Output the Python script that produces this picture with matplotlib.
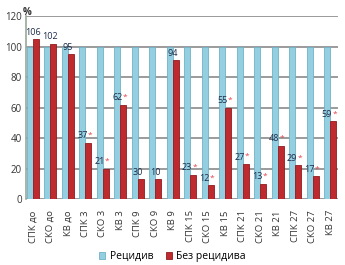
import matplotlib.pyplot as plt
import numpy as np

plt.rcParams['font.family'] = ['Open Sans', 'DejaVu Sans']

categories = ["СПК до", "СКО до", "КВ до", "СПК 3", "СКО 3", "КВ 3",
              "СПК 9", "СКО 9", "КВ 9", "СПК 15", "СКО 15", "КВ 15",
              "СПК 21", "СКО 21", "КВ 21", "СПК 27", "СКО 27", "КВ 27"]
relapse = [100] * 18
no_relapse = [105, 102, 95, 37, 20, 62, 13, 13, 91, 16, 9, 60,
              23, 10, 35, 22, 15, 51]
value_labels = ["106", "102", "95", "37", "21", "62", "30", "10", "94",
                "23", "12", "55", "27", "13", "48", "29", "17", "59"]
starred = [False, False, False, True, True, True, False, False, False,
           True, True, True, True, True, True, True, True, True]

fig = plt.figure(figsize=(3.45, 2.65), dpi=100)
ax = fig.add_axes([0.075, 0.249, 0.905, 0.69])

x = np.arange(len(categories))
w = 0.34
blue = "#93cfe0"
red = "#be2a2e"
ax.bar(x - w / 2, relapse, w, color=blue, edgecolor="#6fb3c6", linewidth=0.6,
       zorder=3, label="Рецидив")
ax.bar(x + w / 2, no_relapse, w, color=red, edgecolor="#8e1c1f", linewidth=0.6,
       zorder=3, label="Без рецидива")

# numbers in dark blue, significance star in red
for xi, top, lab, st in zip(x, no_relapse, value_labels, starred):
    y = top + 1.5
    if st:
        ax.text(xi + 0.12, y, lab, ha="right", va="bottom", fontsize=6.5,
                color="#1d2b4a", zorder=5)
        ax.text(xi + 0.12, y + 1, "*", ha="left", va="bottom", fontsize=6,
                color="#e0484c", zorder=5)
    else:
        ax.text(xi, y, lab, ha="center", va="bottom", fontsize=6.5,
                color="#1d2b4a", zorder=5)

ax.set_ylim(0, 120)
ax.set_xlim(-0.4, 17.46)
ax.set_yticks(range(0, 121, 20))
ax.tick_params(axis="y", labelsize=7, length=0, pad=3, colors="#333333")
ax.set_xticks(x)
ax.set_xticklabels(categories, rotation=90, fontsize=6.8, color="#333333")
ax.tick_params(axis="x", length=0, pad=8)
ax.yaxis.grid(True, color="#8a8a8a", linewidth=1.2, zorder=0)
for s in ["top", "right", "bottom"]:
    ax.spines[s].set_visible(False)
ax.spines["left"].set_color("#9aa89a")
ax.spines["left"].set_linewidth(1.2)

fig.text(0.065, 0.975, "%", fontsize=7, fontweight="bold", color="#333333",
         va="top")

fig.legend(loc="lower center", bbox_to_anchor=(0.5, -0.025), ncol=2,
           fontsize=7.5, frameon=False, handlelength=0.6, handleheight=0.6,
           columnspacing=1.2, handletextpad=0.4)

fig.savefig("out.png", dpi=100)
